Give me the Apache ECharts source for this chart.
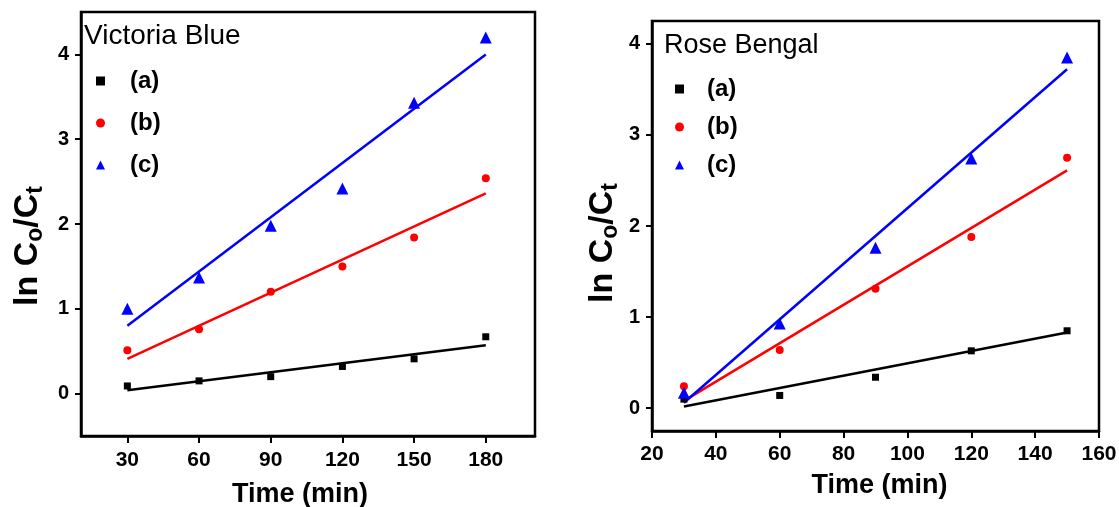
<!DOCTYPE html>
<html>
<head>
<meta charset="utf-8">
<script src="https://cdn.jsdelivr.net/npm/echarts@6/dist/echarts.min.js"></script>
<style>
html,body{margin:0;padding:0;background:#fff;}
#chart{width:1119px;height:507px;}
</style>
</head>
<body>
<div id="chart"></div>
<script>
// ---- Data ----
const vbTime = [30, 60, 90, 120, 150, 180];
const vbA = [0.09, 0.15, 0.20, 0.32, 0.41, 0.67];
const vbB = [0.51, 0.76, 1.20, 1.50, 1.84, 2.54];
const vbC = [1.00, 1.37, 1.98, 2.42, 3.43, 4.20];
const vbFitTime = [30, 180];
const vbFitA = [0.04, 0.57];
const vbFitB = [0.41, 2.36];
const vbFitC = [0.80, 4.00];

const rbTime = [30, 60, 90, 120, 150];
const rbA = [0.10, 0.14, 0.34, 0.63, 0.85];
const rbB = [0.24, 0.64, 1.31, 1.88, 2.75];
const rbC = [0.17, 0.93, 1.76, 2.74, 3.85];
const rbFitTime = [30, 150];
const rbFitA = [0.02, 0.83];
const rbFitB = [0.08, 2.61];
const rbFitC = [0.06, 3.72];

const vbXTicks = [30, 60, 90, 120, 150, 180];
const rbXTicks = [20, 40, 60, 80, 100, 120, 140, 160];
const yTicks = [0, 1, 2, 3, 4];

const panelTitles = ['Victoria Blue', 'Rose Bengal'];
const seriesNames = ['(a)', '(b)', '(c)'];
const xTitle = 'Time (min)';

// ---- helpers ----
const FONT = "'Liberation Sans', Arial, Helvetica, sans-serif";
const colors = ['#000000', '#ff0000', '#0000ff'];
const symbols = ['rect', 'circle', 'triangle'];
const symSizes = [7, 8, 12];
const pairs = (xs, ys) => xs.map((x, i) => [x, ys[i]]);

function xAxisCfg(gridIndex, min, max, ticks, nameGap, labelMargin, namePad) {
  return {
    type: 'value', gridIndex, min, max,
    name: xTitle, nameLocation: 'middle', nameGap,
    nameTextStyle: { fontFamily: FONT, fontSize: 27, fontWeight: 'bold', color: '#000', padding: namePad },
    axisLine: { show: true, onZero: false, lineStyle: { color: '#000', width: 2.5 } },
    axisTick: { show: true, inside: false, length: 7, customValues: ticks, lineStyle: { color: '#000', width: 2 } },
    axisLabel: { customValues: ticks, margin: labelMargin, fontFamily: FONT, fontSize: 21, fontWeight: 'bold', color: '#000' },
    splitLine: { show: false }
  };
}
function yAxisCfg(gridIndex, min, max, nameGap, pad) {
  return {
    type: 'value', gridIndex, min, max,
    name: '{a|ln C}{s|o}{a|/C}{s|t}', nameLocation: 'middle', nameGap, nameRotate: 90,
    nameTextStyle: {
      padding: [0, pad, 0, 0],
      rich: {
        a: { fontFamily: FONT, fontSize: 34, fontWeight: 'bold', color: '#000', lineHeight: 36 },
        s: { fontFamily: FONT, fontSize: 23, fontWeight: 'bold', color: '#000', lineHeight: 36, padding: [15, 0, 0, 0] }
      }
    },
    axisLine: { show: true, onZero: false, lineStyle: { color: '#000', width: 2.5 } },
    axisTick: { show: true, inside: false, length: 6, customValues: yTicks, lineStyle: { color: '#000', width: 2 } },
    axisLabel: { customValues: yTicks, margin: 12, fontFamily: FONT, fontSize: 20, fontWeight: 'bold', color: '#000' },
    splitLine: { show: false }
  };
}

const series = [];
function addPanel(idx, time, vals, fitTime, fits) {
  vals.forEach((v, k) => {
    series.push({
      type: 'scatter', name: seriesNames[k], xAxisIndex: idx, yAxisIndex: idx,
      symbol: symbols[k], symbolSize: symSizes[k],
      itemStyle: { color: colors[k], opacity: 1 }, data: pairs(time, v), z: 3
    });
  });
  fits.forEach((f, k) => {
    series.push({
      type: 'line', name: 'fit' + idx + k, xAxisIndex: idx, yAxisIndex: idx,
      showSymbol: false, symbol: 'none',
      lineStyle: { color: colors[k], width: 2.5 }, data: pairs(fitTime, f), z: 2
    });
  });
}
addPanel(0, vbTime, [vbA, vbB, vbC], vbFitTime, [vbFitA, vbFitB, vbFitC]);
addPanel(1, rbTime, [rbA, rbB, rbC], rbFitTime, [rbFitA, rbFitB, rbFitC]);

function legendCfg(left, top, gap, textPad) {
  return {
    orient: 'vertical', left, top, padding: 0, itemGap: gap,
    itemWidth: 9, itemHeight: 9, selectedMode: false,
    data: seriesNames,
    itemStyle: { opacity: 1 },
    textStyle: { fontFamily: FONT, fontSize: 24, fontWeight: 'bold', color: '#000', padding: [0, 0, 0, textPad] }
  };
}

const option = {
  animation: false,
  backgroundColor: '#ffffff',
  title: [
    { text: panelTitles[0], left: 84, top: 22, padding: 0,
      textStyle: { fontFamily: FONT, fontSize: 28, fontWeight: 'normal', color: '#000' } },
    { text: panelTitles[1], left: 664, top: 32, padding: 0,
      textStyle: { fontFamily: FONT, fontSize: 27, fontWeight: 'normal', color: '#000' } }
  ],
  legend: [legendCfg(96, 69, 18, 20), legendCfg(675, 77, 14, 18)],
  grid: [
    { left: 81, top: 12, width: 454, height: 424, show: true, borderColor: '#000', borderWidth: 2.5,
      backgroundColor: 'transparent', outerBoundsMode: 'none', containLabel: false },
    { left: 652, top: 21, width: 447, height: 410, show: true, borderColor: '#000', borderWidth: 2.5,
      backgroundColor: 'transparent', outerBoundsMode: 'none', containLabel: false }
  ],
  xAxis: [
    xAxisCfg(0, 10.6, 200.6, vbXTicks, 45, 14, [0, 16, 0, 0]),
    xAxisCfg(1, 20, 160, rbXTicks, 41, 13, [0, 0, 0, 8])
  ],
  yAxis: [
    yAxisCfg(0, -0.5, 4.5, 35, 44),
    yAxisCfg(1, -0.25, 4.25, 31, 34)
  ],
  series
};

const chart = echarts.init(document.getElementById('chart'), null, { renderer: 'canvas' });
chart.setOption(option);
</script>
</body>
</html>
